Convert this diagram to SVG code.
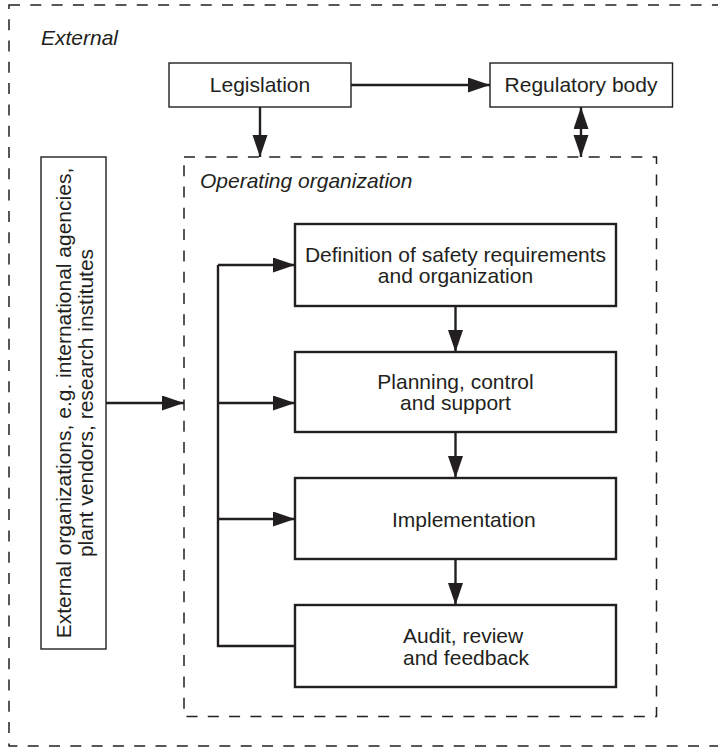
<svg xmlns="http://www.w3.org/2000/svg" width="718" height="748" viewBox="0 0 718 748">
<style>
  text { font-family: "Liberation Sans", Arial, sans-serif; font-size: 21px; fill: #231f20; }
  .it { font-style: italic; }
  .mid { text-anchor: middle; }
  .dash { fill: none; stroke: #231f20; stroke-width: 1.5; stroke-dasharray: 11 10.3; }
  .thin { fill: #fff; stroke: #231f20; stroke-width: 1.4; }
  .thick { fill: #fff; stroke: #231f20; stroke-width: 2.4; }
  .conn { fill: none; stroke: #231f20; stroke-width: 2.4; }
</style>
<defs>
  <marker id="ah" markerUnits="userSpaceOnUse" markerWidth="22" markerHeight="16" refX="22" refY="7.5" orient="auto">
    <path d="M0,0 L22,7.5 L0,15 Z" fill="#231f20"/>
  </marker>
  <marker id="ahs" markerUnits="userSpaceOnUse" markerWidth="22" markerHeight="16" refX="22" refY="7.5" orient="auto-start-reverse">
    <path d="M0,0 L22,7.5 L0,15 Z" fill="#231f20"/>
  </marker>
</defs>

<g id="external">
  <rect class="dash" x="9" y="5" width="720" height="741"/>
  <text class="it" x="41" y="45">External</text>
</g>

<g id="operating-organization">
  <rect class="dash" x="184" y="157" width="472.5" height="559.5"/>
  <text class="it" x="200" y="188">Operating organization</text>
</g>

<g id="legislation">
  <rect class="thin" x="169" y="63" width="182" height="44"/>
  <text class="mid" x="260" y="92">Legislation</text>
</g>

<g id="regulatory-body">
  <rect class="thin" x="490" y="63" width="182.5" height="44"/>
  <text class="mid" x="581" y="92">Regulatory body</text>
</g>

<g id="external-organizations">
  <rect class="thin" x="41" y="157" width="65" height="492"/>
  <text class="mid" transform="translate(71,403) rotate(-90)"><tspan x="0" y="0">External organizations, e.g. international agencies,</tspan><tspan x="0" y="22">plant vendors, research institutes</tspan></text>
</g>

<g id="definition">
  <rect class="thick" x="295" y="224" width="321" height="82"/>
  <text class="mid" x="455.5" y="262">Definition of safety requirements</text>
  <text class="mid" x="455.5" y="283">and organization</text>
</g>

<g id="planning">
  <rect class="thick" x="295" y="352" width="321" height="80"/>
  <text class="mid" x="455.5" y="389">Planning, control</text>
  <text class="mid" x="455.5" y="410">and support</text>
</g>

<g id="implementation">
  <rect class="thick" x="295" y="478" width="321" height="81"/>
  <text x="392" y="527">Implementation</text>
</g>

<g id="audit">
  <rect class="thick" x="295" y="605" width="321" height="82"/>
  <text x="403" y="643">Audit, review</text>
  <text x="403" y="665">and feedback</text>
</g>

<g id="connectors">
  <line class="conn" x1="351" y1="85" x2="490" y2="85" marker-end="url(#ah)"/>
  <line class="conn" x1="260" y1="107" x2="260" y2="157" marker-end="url(#ah)"/>
  <line class="conn" x1="581" y1="107" x2="581" y2="157" marker-start="url(#ahs)" marker-end="url(#ah)"/>
  <line class="conn" x1="106" y1="403" x2="184" y2="403" marker-end="url(#ah)"/>
  <line class="conn" x1="455.5" y1="306" x2="455.5" y2="352" marker-end="url(#ah)"/>
  <line class="conn" x1="455.5" y1="432" x2="455.5" y2="478" marker-end="url(#ah)"/>
  <line class="conn" x1="455.5" y1="559" x2="455.5" y2="605" marker-end="url(#ah)"/>
  <polyline class="conn" points="295,646 218,646 218,265"/>
  <line class="conn" x1="218" y1="265" x2="295" y2="265" marker-end="url(#ah)"/>
  <line class="conn" x1="218" y1="403" x2="295" y2="403" marker-end="url(#ah)"/>
  <line class="conn" x1="218" y1="519" x2="295" y2="519" marker-end="url(#ah)"/>
</g>
</svg>
